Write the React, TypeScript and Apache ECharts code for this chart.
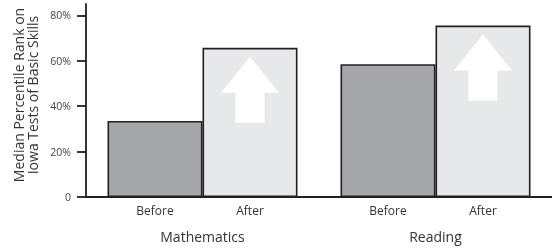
import React, { useEffect, useRef } from "react";
import * as echarts from "echarts";

const subjects = ["Mathematics", "Reading"];
const beforeValues = [33.5, 58.5];
const afterValues = [65.7, 75.5];
const yTicks = [0, 20, 40, 60, 80];
const yAxisTitle = "Median Percentile Rank on\nIowa Tests of Basic Skills";

const BAR_W = 95;
const FONT = "'Open Sans', 'Noto Sans', sans-serif";

export default function App() {
  const ref = useRef<HTMLDivElement>(null);
  useEffect(() => {
    if (!ref.current) return;
    const chart = echarts.init(ref.current, null, { renderer: "svg" });
    const border = { borderColor: "#231f20", borderWidth: 1.6 };
    chart.setOption({
      animation: false,
      textStyle: { fontFamily: FONT },
      grid: { left: 86, top: 4, width: 468, height: 193 },
      xAxis: {
        type: "category",
        data: subjects,
        axisLine: { lineStyle: { color: "#231f20", width: 1.8 } },
        axisTick: { show: false },
        axisLabel: { margin: 32, fontSize: 14, color: "#333", fontFamily: FONT },
      },
      yAxis: {
        type: "value",
        min: 0,
        max: 85,
        splitLine: { show: false },
        axisLine: { show: true, lineStyle: { color: "#231f20", width: 1.8 } },
        axisTick: {
          show: true,
          length: 9,
          customValues: yTicks,
          lineStyle: { color: "#231f20", width: 1.8 },
        },
        axisLabel: {
          customValues: yTicks,
          margin: 15,
          fontSize: 10.5,
          color: "#444",
          fontFamily: FONT,
          formatter: (v: number) => (v === 0 ? "0" : v + "%"),
        },
      },
      graphic: [
        {
          type: "text",
          x: 25,
          y: 95,
          rotation: Math.PI / 2,
          style: {
            text: yAxisTitle,
            fontSize: 14,
            lineHeight: 14,
            fill: "#333",
            fontFamily: FONT,
            align: "center",
            verticalAlign: "middle",
          },
        },
      ],
      series: [
        {
          name: "Before",
          type: "bar",
          data: beforeValues,
          barWidth: BAR_W,
          barGap: "0%",
          itemStyle: { color: "#a5a6a9", ...border },
          label: {
            show: true,
            position: "bottom",
            distance: 7,
            formatter: "{a}",
            fontSize: 12,
            color: "#333",
            fontFamily: FONT,
          },
        },
        {
          name: "After",
          type: "bar",
          data: afterValues,
          barWidth: BAR_W,
          barGap: "0%",
          itemStyle: { color: "#e7e8ea", ...border },
          label: {
            show: true,
            position: "bottom",
            distance: 7,
            formatter: "{a}",
            fontSize: 12,
            color: "#333",
            fontFamily: FONT,
          },
        },
        {
          type: "custom",
          silent: true,
          z: 10,
          data: afterValues.map((v, i) => [i, v]),
          renderItem: (params: any, api: any) => {
            const p = api.coord([api.value(0), api.value(1)]);
            const x = p[0] + BAR_W / 2;
            const t = p[1];
            return {
              type: "polygon",
              shape: {
                points: [
                  [x, t + 9],
                  [x + 29, t + 45],
                  [x + 14.5, t + 45],
                  [x + 14.5, t + 75],
                  [x - 14.5, t + 75],
                  [x - 14.5, t + 45],
                  [x - 29, t + 45],
                ],
              },
              style: { fill: "#ffffff" },
            };
          },
        },
      ],
    });
    return () => chart.dispose();
  }, []);
  return (
    <div
      ref={ref}
      style={{ position: "fixed", left: 0, top: 0, width: 552, height: 249 }}
    />
  );
}
